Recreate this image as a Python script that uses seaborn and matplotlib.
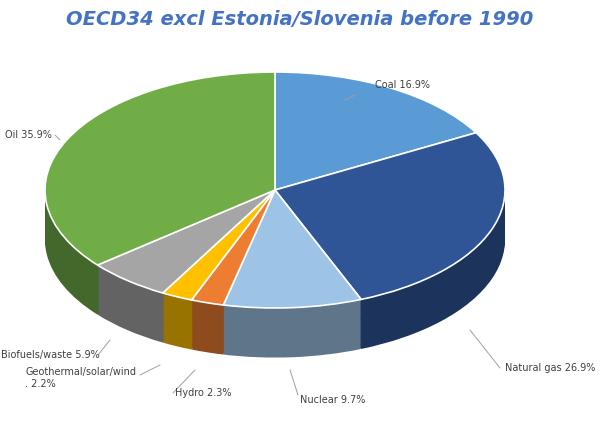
import matplotlib
matplotlib.use("Agg")
import matplotlib.pyplot as plt
import matplotlib.colors as mc
import seaborn as sns
import numpy as np

sns.set_theme(style="white")
plt.rcParams['font.family'] = ['DejaVu Sans']

labels = ["Coal", "Natural gas", "Nuclear", "Hydro", "Geothermal/solar/wind", "Biofuels/waste", "Oil"]
values = [16.9, 26.9, 9.7, 2.3, 2.2, 5.9, 35.9]
colors = ["#5B9BD5", "#2F5597", "#9DC3E6", "#ED7D31", "#FFC000", "#A5A5A5", "#70AD47"]
label_text = ["Coal 16.9%", "Natural gas 26.9%", "Nuclear 9.7%", "Hydro 2.3%",
              "Geothermal/solar/wind\n. 2.2%", "Biofuels/waste 5.9%", "Oil 35.9%"]

fig = plt.figure(figsize=(6, 4.32), dpi=100)
ax = fig.add_axes([0, 0, 1, 1])

def darker(c, f):
    r, g, b = mc.to_rgb(c)
    return (r * f, g * f, b * f)

depth = 0.42
n = 30
side = [darker(c, 0.6) for c in colors]
ax.pie(values, colors=side, startangle=90, counterclock=False, center=(0, -depth),
       wedgeprops=dict(linewidth=1, edgecolor="white"))
for i in range(n, 0, -1):
    d = depth * i / n
    ax.pie(values, colors=side, startangle=90, counterclock=False,
           center=(0, -d), wedgeprops=dict(linewidth=0))
ax.pie(values, colors=colors, startangle=90, counterclock=False,
       wedgeprops=dict(linewidth=1.2, edgecolor="white"))

ax.set_aspect('auto')
ax.set_xlim(-275 / 230, 325 / 230)
ax.set_ylim(-242 / 118, 190 / 118)
ax.axis('off')

fig.text(0.5, 0.955, "OECD34 excl Estonia/Slovenia before 1990", ha="center", va="center",
         color="#4472C4", fontsize=14, fontweight="bold", fontstyle="italic")

# label pixel positions (left edge), leader line endpoints (pixel)
pos = [(375, 85, (355, 95), (345, 100)),
       (505, 368, (500, 368), (470, 330)),
       (300, 400, (298, 395), (290, 370)),
       (175, 393, (173, 393), (195, 370)),
       (25, 378, (140, 375), (160, 365)),
       (1, 355, (98, 355), (110, 340)),
       (5, 135, (55, 135), (60, 140))]
for (px, py, p1, p2), t in zip(pos, label_text):
    fig.text(px / 600, 1 - py / 432, t, ha="left", va="center", fontsize=7, color="#404040")
    fig.add_artist(plt.Line2D([p1[0] / 600, p2[0] / 600], [1 - p1[1] / 432, 1 - p2[1] / 432],
                              color="#A0A0A0", lw=0.7))

fig.savefig("out.png", dpi=100)
